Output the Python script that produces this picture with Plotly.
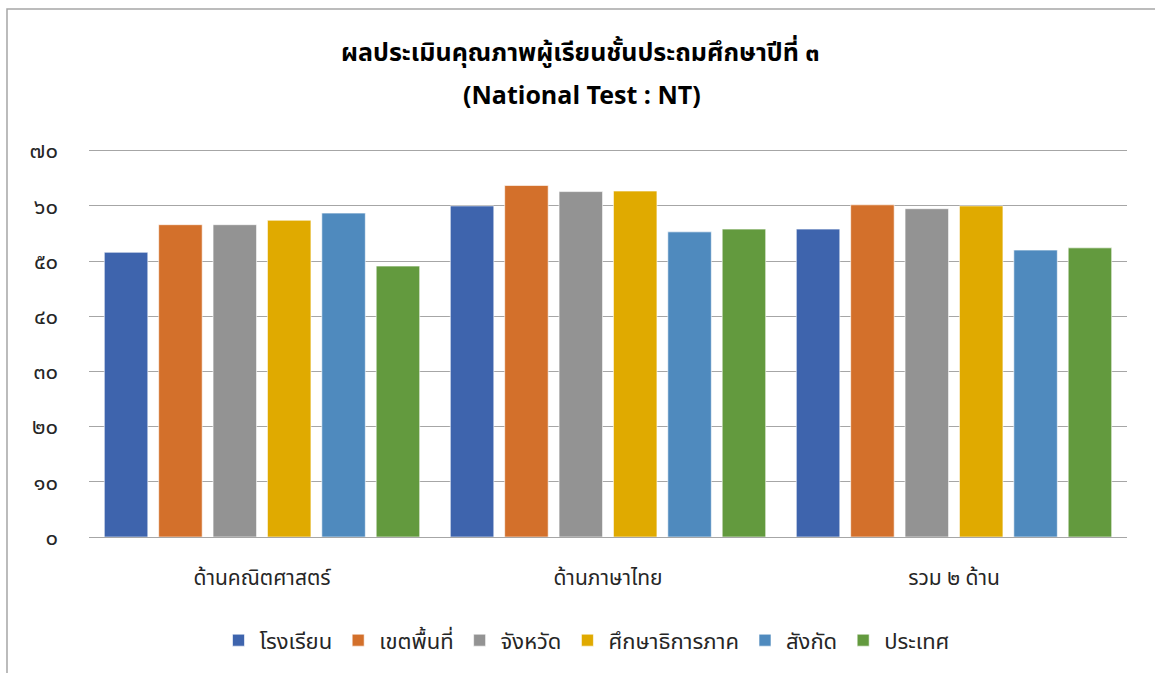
import plotly.graph_objects as go

categories = ["ด้านคณิตศาสตร์", "ด้านภาษาไทย", "รวม ๒ ด้าน"]
series_names = ["โรงเรียน", "เขตพื้นที่", "จังหวัด", "ศึกษาธิการภาค", "สังกัด", "ประเทศ"]
school = [51.6, 60.0, 55.8]
area = [56.6, 63.7, 60.2]
province = [56.6, 62.6, 59.5]
region = [57.4, 62.7, 60.0]
affiliation = [58.7, 55.3, 52.0]
country = [49.1, 55.8, 52.4]
tick_vals = [0, 10, 20, 30, 40, 50, 60, 70]
tick_text = ["๐", "๑๐", "๒๐", "๓๐", "๔๐", "๕๐", "๖๐", "๗๐"]
title_line1 = "ผลประเมินคุณภาพผู้เรียนชั้นประถมศึกษาปีที่ ๓"
title_line2 = "(National Test : NT)"

colors = ["#3E64AD", "#D3702B", "#939393", "#E0AA00", "#4F8ABE", "#639A3E"]
values = [school, area, province, region, affiliation, country]

FONT = "Tahoma, 'Leelawadee UI', 'Noto Sans Thai', 'DejaVu Sans', sans-serif"

PLOT_TOP, PLOT_BOTTOM = 148, 540
PH = PLOT_BOTTOM - PLOT_TOP


def ypaper(px):
    return (PLOT_BOTTOM - px) / PH


fig = go.Figure()
for name, vals, col in zip(series_names, values, colors):
    fig.add_trace(go.Bar(
        name=name, x=categories, y=vals,
        marker=dict(color=col, line=dict(color="rgba(255,255,255,0.6)", width=1)),
    ))

fig.update_layout(
    width=1155, height=673,
    barmode="group", bargap=0.057, bargroupgap=0.2,
    plot_bgcolor="white", paper_bgcolor="white",
    font=dict(family=FONT, color="#262626"),
    margin=dict(l=89, r=28, t=PLOT_TOP, b=673 - PLOT_BOTTOM),
    yaxis=dict(
        range=[0, 70.5], tickvals=tick_vals, ticktext=tick_text,
        showgrid=True, gridcolor="#A6A6A6", gridwidth=1.3,
        zeroline=True, zerolinecolor="#A6A6A6", zerolinewidth=1.3,
        showline=False, ticks="", tickfont=dict(size=22, color="#262626"),
        ticklabelstandoff=30,
    ),
    xaxis=dict(
        showline=False, ticks="", tickfont=dict(size=21, color="#262626"),
        ticklabelstandoff=26,
    ),
    legend=dict(
        orientation="h", x=(586 - 89) / 1038, xanchor="center",
        y=ypaper(623), yanchor="top", yref="paper",
        font=dict(size=22, color="#262626"), itemwidth=32,
        traceorder="normal",
    ),
    annotations=[
        dict(text="<b>" + title_line1 + "</b>", xref="paper", yref="paper",
             x=(580 - 89) / 1038, y=ypaper(52), xanchor="center", yanchor="middle",
             showarrow=False, font=dict(size=25, color="#000000", family=FONT)),
        dict(text="<b>" + title_line2 + "</b>", xref="paper", yref="paper",
             x=(582 - 89) / 1038, y=ypaper(96), xanchor="center", yanchor="middle",
             showarrow=False, font=dict(size=25, color="#000000", family=FONT)),
    ],
    shapes=[dict(type="rect", xref="paper", yref="paper",
                 x0=-0.079, x1=1.05, y0=ypaper(700), y1=ypaper(8),
                 line=dict(color="#A6A6A6", width=1.5))],
)

fig.write_html("out.html", config={"displayModeBar": False},
               post_script="document.body.style.margin='0';document.body.style.overflow='hidden';")
